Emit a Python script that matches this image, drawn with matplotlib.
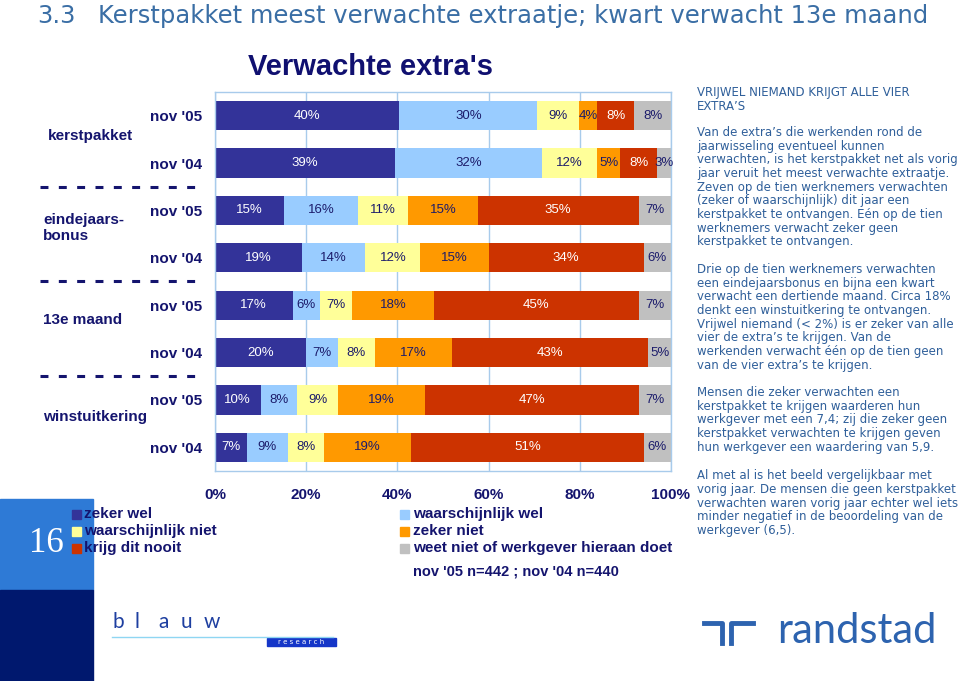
import numpy as np
import matplotlib
matplotlib.use('Agg')
import matplotlib.pyplot as plt
from matplotlib.patches import Rectangle
from matplotlib.lines import Line2D

# figure size in pixels, everything below is placed in pixel coords of the page
W, H = 959, 681

categories = ['kerstpakket', 'eindejaars-\nbonus', '13e maand', 'winstuitkering']
periods = ["nov '05", "nov '04"]
series = ['zeker wel', 'waarschijnlijk wel', 'waarschijnlijk niet',
          'zeker niet', 'krijg dit nooit', 'weet niet of werkgever hieraan doet']
# rows: kerstpakket 05/04, eindejaarsbonus 05/04, 13e maand 05/04, winstuitkering 05/04
zeker_wel = [40, 39, 15, 19, 17, 20, 10, 7]
waarschijnlijk_wel = [30, 32, 16, 14, 6, 7, 8, 9]
waarschijnlijk_niet = [9, 12, 11, 12, 7, 8, 9, 8]
zeker_niet = [4, 5, 15, 15, 18, 17, 19, 19]
krijg_dit_nooit = [8, 8, 35, 34, 45, 43, 47, 51]
weet_niet = [8, 3, 7, 6, 7, 5, 7, 6]
xticks = [0, 20, 40, 60, 80, 100]
note = "nov '05 n=442 ; nov '04 n=440"

colors = ['#333399', '#99CCFF', '#FFFF99', '#FF9900', '#CC3300', '#C0C0C0']
label_colors = ['white', '#1C1C6B', '#1C1C6B', '#1C1C6B', 'white', '#1C1C6B']
NAVY = '#14146E'
GRID = '#A8CBEB'
TXT = '#2F5F9A'

heading_no = '3.3'
heading = 'Kerstpakket meest verwachte extraatje; kwart verwacht 13e maand'
chart_title = "Verwachte extra's"

paragraphs = [
    ["VRIJWEL NIEMAND KRIJGT ALLE VIER", "EXTRA\u2019S"],
    ["Van de extra\u2019s die werkenden rond de",
     "jaarwisseling eventueel kunnen",
     "verwachten, is het kerstpakket net als vorig",
     "jaar veruit het meest verwachte extraatje.",
     "Zeven op de tien werknemers verwachten",
     "(zeker of waarschijnlijk) dit jaar een",
     "kerstpakket te ontvangen. E\u00e9n op de tien",
     "werknemers verwacht zeker geen",
     "kerstpakket te ontvangen."],
    ["Drie op de tien werknemers verwachten",
     "een eindejaarsbonus en bijna een kwart",
     "verwacht een dertiende maand. Circa 18%",
     "denkt een winstuitkering te ontvangen.",
     "Vrijwel niemand (< 2%) is er zeker van alle",
     "vier de extra\u2019s te krijgen. Van de",
     "werkenden verwacht \u00e9\u00e9n op de tien geen",
     "van de vier extra\u2019s te krijgen."],
    ["Mensen die zeker verwachten een",
     "kerstpakket te krijgen waarderen hun",
     "werkgever met een 7,4; zij die zeker geen",
     "kerstpakket verwachten te krijgen geven",
     "hun werkgever een waardering van 5,9."],
    ["Al met al is het beeld vergelijkbaar met",
     "vorig jaar. De mensen die geen kerstpakket",
     "verwachten waren vorig jaar echter wel iets",
     "minder negatief in de beoordeling van de",
     "werkgever (6,5)."],
]
para_top = [92.5, 132.5, 269.5, 392.5, 476]


def fx(x):
    return x / W


def fy(y):
    return 1 - y / H


fig = plt.figure(figsize=(W / 100, H / 100), dpi=100)
fig.patch.set_facecolor('white')

# ---- bar chart
ax = fig.add_axes([fx(215), fy(471), 456 / W, 379 / H])
data = np.array([zeker_wel, waarschijnlijk_wel, waarschijnlijk_niet,
                 zeker_niet, krijg_dit_nooit, weet_niet], dtype=float)
# rounded labels do not always sum to 100, bars are drawn as 100% stacked
widths = data / data.sum(axis=0) * 100
ypos = np.arange(data.shape[1])
left = np.zeros(data.shape[1])
for i, name in enumerate(series):
    bars = ax.barh(ypos, widths[i], left=left, height=0.62, color=colors[i],
                   edgecolor='none', label=name, zorder=2)
    ax.bar_label(bars, labels=[f'{int(v)}%' for v in data[i]], label_type='center',
                 color=label_colors[i], fontsize=9.5, family='Liberation Sans')
    left += widths[i]

ax.set_xlim(0, 100)
ax.set_ylim(len(ypos) - 0.5, -0.5)
ax.set_xticks(xticks)
ax.set_xticklabels([f'{t}%' for t in xticks], fontsize=11, fontweight='bold',
                   color=NAVY, family='Liberation Sans')
ax.set_yticks(ypos)
ax.set_yticklabels(periods * len(categories), fontsize=11, fontweight='bold',
                   color=NAVY, family='Liberation Sans')
ax.tick_params(axis='x', length=0, pad=12)
ax.tick_params(axis='y', length=0, pad=9)
ax.grid(axis='x', color=GRID, lw=1, zorder=0)
for s in ax.spines.values():
    s.set_color(GRID)
    s.set_linewidth(1)

# category labels and dashed separators
cat_pos = [(48, 136), (43, 228), (43, 320), (43, 417)]
for name, (x, y) in zip(categories, cat_pos):
    fig.text(fx(x), fy(y), name, ha='left', va='center', fontsize=11,
             fontweight='bold', color=NAVY, family='Liberation Sans',
             linespacing=1.15)
for y in [187, 281, 376]:
    ln = Line2D([fx(40), fx(205)], [fy(y), fy(y)], color=NAVY, lw=2.2,
                transform=fig.transFigure)
    ln.set_dashes((2.6, 3.4))
    fig.add_artist(ln)

# titles
fig.text(fx(37), fy(16), heading_no, fontsize=17.5, color='#3A6EA5',
         va='center', family='DejaVu Sans')
fig.text(fx(98), fy(16), heading, fontsize=17.5, color='#3A6EA5',
         va='center', family='DejaVu Sans')
fig.text(fx(371), fy(67), chart_title, fontsize=21, fontweight='bold',
         color='#101070', ha='center', va='center', family='Liberation Sans')

# ---- page number block
fig.add_artist(Rectangle((0, fy(590)), fx(93), (590 - 499) / H,
                         transform=fig.transFigure, color='#2E7AD6', zorder=0))
fig.add_artist(Rectangle((0, 0), fx(93), (H - 590) / H,
                         transform=fig.transFigure, color='#00186E', zorder=0))
fig.text(fx(46), fy(544), '16', fontsize=25, color='white', ha='center',
         va='center', family='Liberation Serif')

# ---- legend (two columns, drawn by hand to keep the wide gap)
leg_cols = [(72, 84), (72, 84), (72, 84), (400, 413), (400, 413), (400, 413)]
leg_rows = [514, 531, 548]
leg_order = [0, 2, 4, 1, 3, 5]
for k, i in enumerate(leg_order):
    sx, tx = leg_cols[k]
    y = leg_rows[k % 3]
    fig.add_artist(Rectangle((fx(sx), fy(y + 4.5)), 9 / W, 9 / H,
                             transform=fig.transFigure, color=colors[i], zorder=3))
    fig.text(fx(tx), fy(y), series[i], fontsize=11, fontweight='bold', color=NAVY,
             va='center', family='Liberation Sans', zorder=4)
fig.text(fx(413), fy(572), note, fontsize=10.5, fontweight='bold', color=NAVY,
         va='center', family='Liberation Sans')

# ---- right hand text
for top, lines in zip(para_top, paragraphs):
    for j, line in enumerate(lines):
        fig.text(fx(697), fy(top + j * 13.65), line, fontsize=8.5, color=TXT,
                 va='center', family='DejaVu Sans')

# ---- blauw research logo
for j, ch in enumerate('blauw'):
    fig.text(fx(112 + j * 23), fy(628), ch, fontsize=15, color='#1E3FA0',
             va='baseline', family='Lato')
fig.add_artist(Line2D([fx(112), fx(333)], [fy(637), fy(637)], color='#8FD6F2',
                      lw=1, transform=fig.transFigure))
fig.add_artist(Rectangle((fx(267), fy(646)), 69 / W, 8 / H,
                         transform=fig.transFigure, color='#1536C8'))
fig.text(fx(301), fy(642), 'r e s e a r c h', fontsize=5, color='white',
         ha='center', va='center', family='DejaVu Sans')

# ---- randstad logo
RB = '#2D63AF'
for xs, ys in [([704, 722, 722], [623, 623, 643]), ([731, 731, 753], [643, 623, 623])]:
    fig.add_artist(Line2D([fx(v) for v in xs], [fy(v) for v in ys], color=RB,
                          lw=3.5, solid_joinstyle='round', transform=fig.transFigure))
fig.text(fx(777), fy(643), 'randstad', fontsize=30, color=RB, va='baseline',
         family='Lato')

fig.savefig('out.png', dpi=100)
